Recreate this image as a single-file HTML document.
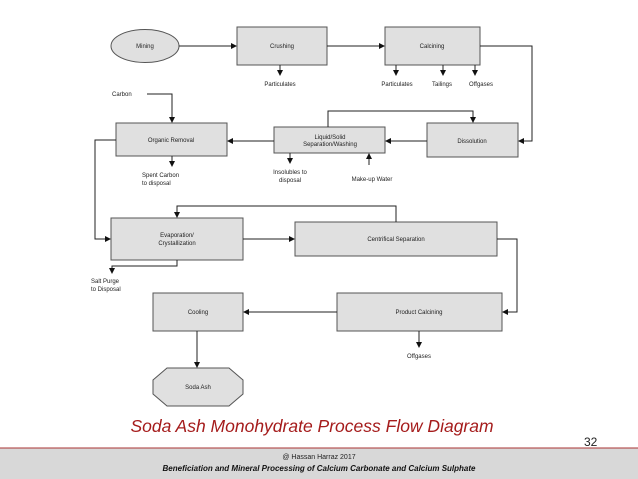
<!DOCTYPE html>
<html><head><meta charset="utf-8"><style>
html,body{margin:0;padding:0;background:#fff;width:638px;height:479px;overflow:hidden}
svg{display:block}
text{font-family:"Liberation Sans",sans-serif;font-size:6px;fill:#222}
</style></head><body>
<svg width="638" height="479" viewBox="0 0 638 479">
<defs><marker id="a" markerWidth="6" markerHeight="6" refX="5" refY="3" orient="auto" markerUnits="userSpaceOnUse"><path d="M0,0 L6,3 L0,6z" fill="#111"/></marker></defs>
<g fill="#e0e0e0" stroke="#555" stroke-width="1">
<ellipse cx="145" cy="46" rx="34" ry="16.5"/>
<rect x="237" y="27" width="90" height="38"/>
<rect x="385" y="27" width="95" height="38"/>
<rect x="427" y="123" width="91" height="34"/>
<rect x="274" y="127" width="111" height="26"/>
<rect x="116" y="123" width="111" height="33"/>
<rect x="111" y="218" width="132" height="42"/>
<rect x="295" y="222" width="202" height="34"/>
<rect x="337" y="293" width="165" height="38"/>
<rect x="153" y="293" width="90" height="38"/>
<polygon points="167,368 229,368 243,380 243,394 229,406 167,406 153,394 153,380"/>
</g>
<g stroke="#222" stroke-width="1" fill="none" marker-end="url(#a)">
<path d="M179,46 H236"/>
<path d="M327,46 H384"/>
<path d="M280,65 V75"/>
<path d="M396,65 V75"/><path d="M443,65 V75"/><path d="M475,65 V75"/>
<path d="M480,46 H532 V141 H519"/>
<path d="M427,141 H386"/>
<path d="M328,127 V111 H473 V122"/>
<path d="M274,141 H228"/>
<path d="M147,94 H172 V122"/>
<path d="M172,156 V166"/>
<path d="M290,153 V163"/>
<path d="M369,165 V154"/>
<path d="M116,140 H95 V239 H110"/>
<path d="M396,222 V206 H177 V217"/>
<path d="M243,239 H294"/>
<path d="M497,239 H517 V312 H503"/>
<path d="M177,260 V266 H112 V273"/>
<path d="M337,312 H244"/>
<path d="M419,331 V347"/>
<path d="M197,331 V367"/>
</g>
<g text-anchor="middle">
<text x="145" y="48">Mining</text>
<text x="282" y="48">Crushing</text>
<text x="432" y="48">Calcining</text>
<text x="280" y="86">Particulates</text>
<text x="397" y="86">Particulates</text>
<text x="442" y="86">Tailings</text>
<text x="481" y="86">Offgases</text>
<text x="472" y="143">Dissolution</text>
<text x="330" y="139">Liquid/Solid</text>
<text x="330" y="146">Separation/Washing</text>
<text x="171" y="142">Organic Removal</text>
<text x="290" y="174">Insolubles to</text>
<text x="290" y="182">disposal</text>
<text x="372" y="181">Make-up Water</text>
<text x="177" y="237">Evaporation/</text>
<text x="177" y="245">Crystallization</text>
<text x="396" y="241">Centrifical Separation</text>
<text x="419" y="314">Product Calcining</text>
<text x="198" y="314">Cooling</text>
<text x="198" y="389">Soda Ash</text>
<text x="419" y="358">Offgases</text>
</g>
<text x="112" y="96">Carbon</text>
<text x="142" y="177">Spent Carbon</text>
<text x="142" y="185">to disposal</text>
<text x="91" y="283">Salt Purge</text>
<text x="91" y="291">to Disposal</text>
<text x="312" y="432" text-anchor="middle" style="font-size:17.5px;font-style:italic;fill:#a51c1c">Soda Ash Monohydrate Process Flow Diagram</text>
<text x="584" y="446" style="font-size:12px;fill:#222">32</text>
<rect x="0" y="448" width="638" height="31" fill="#d8d8d8"/>
<line x1="0" y1="448" x2="638" y2="448" stroke="#a33" stroke-width="1"/>
<text x="319" y="459" text-anchor="middle" style="font-size:7px">@ Hassan Harraz 2017</text>
<text x="319" y="471" text-anchor="middle" style="font-size:8px;font-style:italic;font-weight:bold;fill:#111">Beneficiation and Mineral Processing of Calcium Carbonate and Calcium Sulphate</text>
</svg>
</body></html>
